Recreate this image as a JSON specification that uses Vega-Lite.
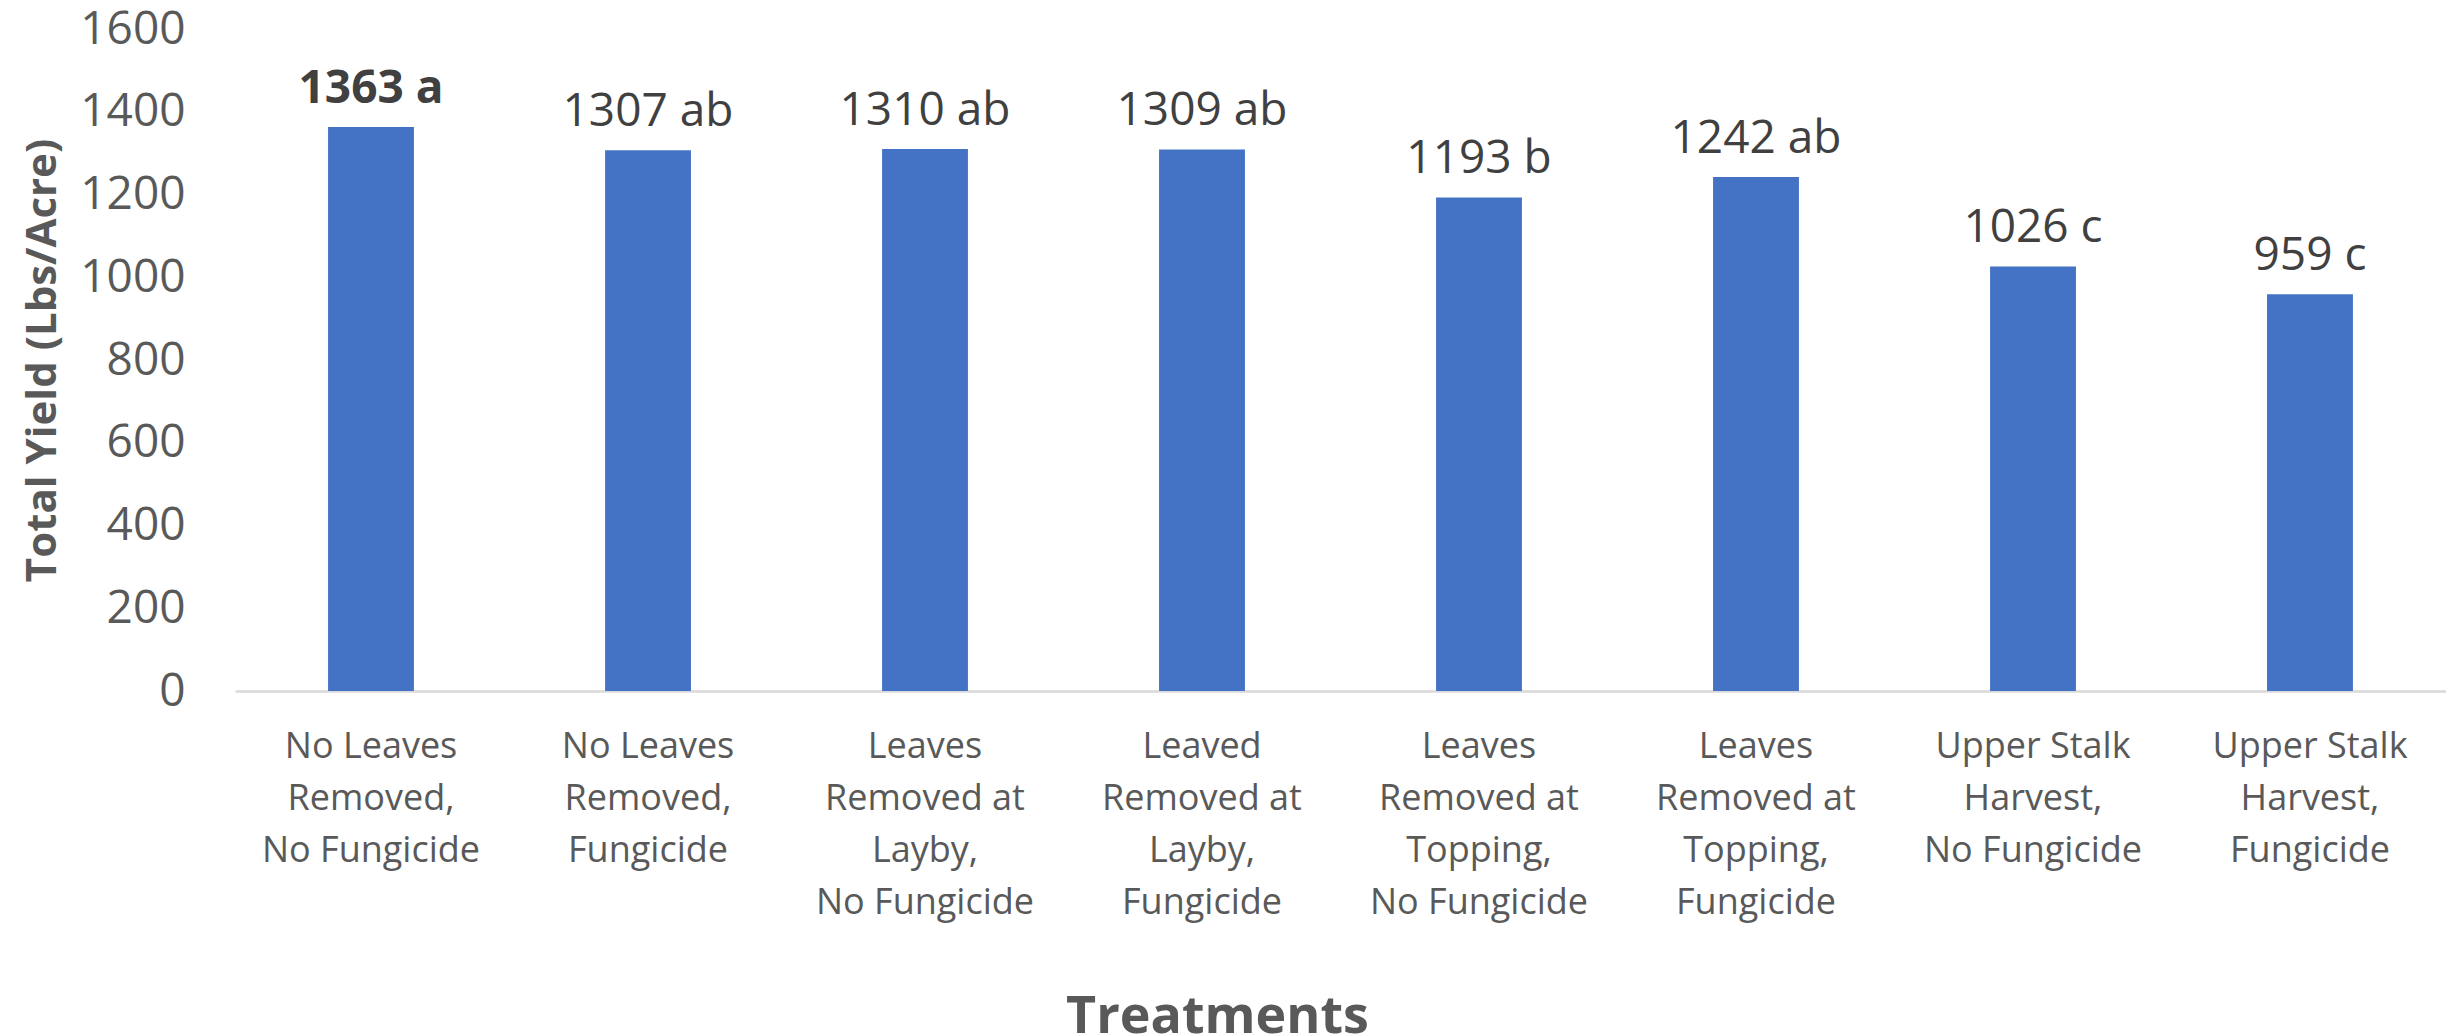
{
  "$schema": "https://vega.github.io/schema/vega-lite/v6.json",
  "autosize": "none",
  "padding": {"left": 235, "top": 29, "right": 0, "bottom": 345},
  "width": 2211,
  "height": 662,
  "background": "white",
  "config": {"view": {"stroke": null}, "font": "Open Sans"},
  "data": {"values": [
    {"treatment": "No Leaves\nRemoved,\nNo Fungicide", "yield": 1363, "letters": "a", "label": "1363 a"},
    {"treatment": "No Leaves\nRemoved,\nFungicide", "yield": 1307, "letters": "ab", "label": "1307 ab"},
    {"treatment": "Leaves\nRemoved at\nLayby,\nNo Fungicide", "yield": 1310, "letters": "ab", "label": "1310 ab"},
    {"treatment": "Leaved\nRemoved at\nLayby,\nFungicide", "yield": 1309, "letters": "ab", "label": "1309 ab"},
    {"treatment": "Leaves\nRemoved at\nTopping,\nNo Fungicide", "yield": 1193, "letters": "b", "label": "1193 b"},
    {"treatment": "Leaves\nRemoved at\nTopping,\nFungicide", "yield": 1242, "letters": "ab", "label": "1242 ab"},
    {"treatment": "Upper Stalk\nHarvest,\nNo Fungicide", "yield": 1026, "letters": "c", "label": "1026 c"},
    {"treatment": "Upper Stalk\nHarvest,\nFungicide", "yield": 959, "letters": "c", "label": "959 c"}
  ]},
  "encoding": {
    "x": {
      "field": "treatment", "type": "nominal", "sort": null,
      "scale": {"paddingInner": 0.69, "paddingOuter": 0.336},
      "axis": {
        "title": "Treatments",
        "titleFont": "Open Sans", "titleFontSize": 52, "titleFontWeight": "bold", "titleColor": "#595959",
        "titleX": 982, "titleY": 341, "titleAlign": "center", "titleBaseline": "alphabetic", "titleAnchor": null,
        "labelExpr": "split(datum.label, '\\n')",
        "labelAngle": 0, "labelFont": "Open Sans", "labelFontSize": 36, "labelColor": "#595959",
        "labelLineHeight": 52, "labelBaseline": "top", "labelPadding": 38, "labelLimit": 0,
        "ticks": false, "domainColor": "#d9d9d9", "domainWidth": 2.5, "labelOverlap": false
      }
    }
  },
  "layer": [
    {
      "mark": {"type": "bar", "color": "#4472C4"},
      "encoding": {
        "y": {
          "field": "yield", "type": "quantitative",
          "scale": {"domain": [0, 1600], "nice": false},
          "axis": {
            "title": "Total Yield (Lbs/Acre)",
            "titleFont": "Open Sans", "titleFontSize": 42, "titleFontWeight": "bold", "titleColor": "#595959",
            "titleX": -180, "titleY": 331, "titleAngle": -90, "titleAlign": "center", "titleBaseline": "alphabetic", "titleAnchor": null,
            "values": [0, 200, 400, 600, 800, 1000, 1200, 1400, 1600], "format": "d",
            "labelFont": "Open Sans", "labelFontSize": 46, "labelColor": "#595959", "labelPadding": 50,
            "ticks": false, "domain": false, "grid": false
          }
        }
      }
    },
    {
      "transform": [{"filter": "datum.letters !== 'a'"}],
      "mark": {"type": "text", "font": "Open Sans", "fontSize": 46, "color": "#404040", "baseline": "alphabetic", "dy": -24},
      "encoding": {
        "y": {"field": "yield", "type": "quantitative"},
        "text": {"field": "label"}
      }
    },
    {
      "transform": [{"filter": "datum.letters === 'a'"}],
      "mark": {"type": "text", "font": "Open Sans", "fontSize": 46, "fontWeight": "bold", "color": "#404040", "baseline": "alphabetic", "dy": -24},
      "encoding": {
        "y": {"field": "yield", "type": "quantitative"},
        "text": {"field": "label"}
      }
    }
  ]
}
